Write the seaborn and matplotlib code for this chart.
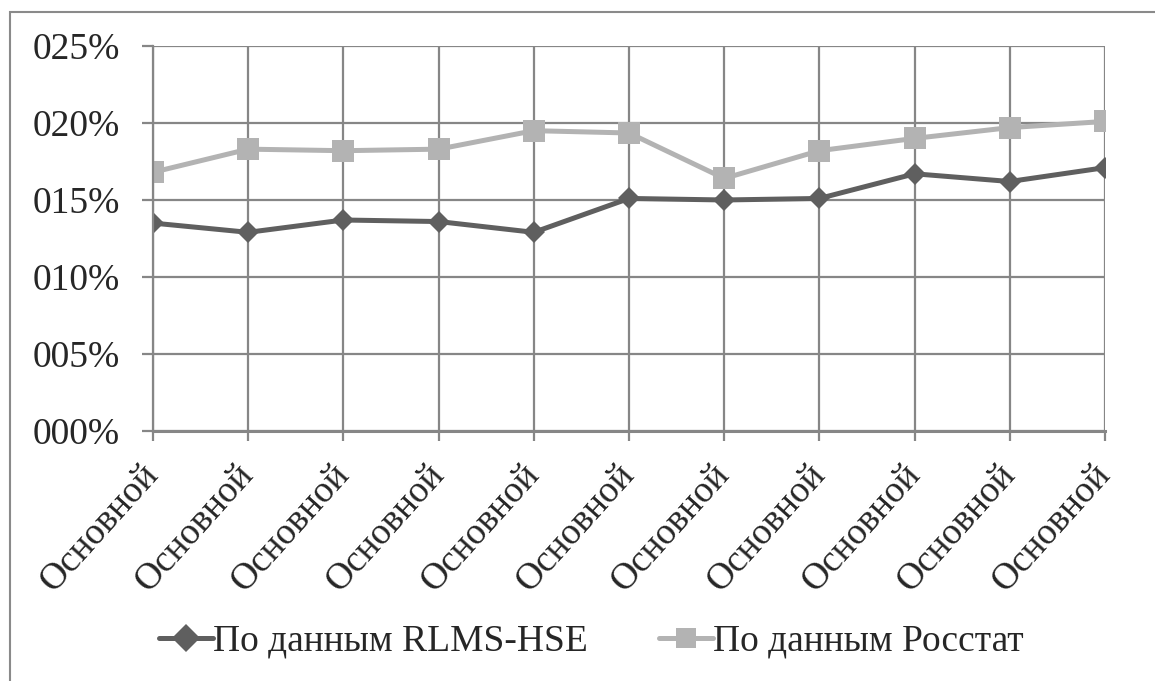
import matplotlib
matplotlib.use("Agg")
import matplotlib.pyplot as plt
import matplotlib.patches as mpatches
import seaborn as sns
import pandas as pd

categories = ["Основной"] * 11
rlms = [13.5, 12.9, 13.7, 13.6, 12.9, 15.1, 15.0, 15.1, 16.7, 16.2, 17.1]
rosstat = [16.8, 18.3, 18.2, 18.3, 19.5, 19.35, 16.4, 18.2, 19.0, 19.7, 20.1]
yticks = [0, 5, 10, 15, 20, 25]
names = ["По данным RLMS-HSE", "По данным Росстат"]

sns.set_style("white")
plt.rcParams["font.family"] = ["Liberation Serif", "DejaVu Serif"]

x = list(range(len(categories)))
df = pd.DataFrame({"x": x * 2,
                   "value": rlms + rosstat,
                   "series": [names[0]] * len(x) + [names[1]] * len(x)})

fig = plt.figure(figsize=(11.55, 6.81), dpi=100)
ax = fig.add_axes([0.1325, 0.3671, 0.9567 - 0.1325, 0.9325 - 0.3671])

grid_c = "#868686"
ax.set_axisbelow(True)
ax.grid(True, color=grid_c, linewidth=1.6)

sns.lineplot(data=df, x="x", y="value", hue="series", style="series",
             palette=["#5f5f5f", "#b3b3b3"], markers=["D", "s"], dashes=False,
             linewidth=3.6, markersize=14, markeredgewidth=0, ax=ax)
lines = [l for l in ax.get_lines() if len(l.get_xdata()) == len(x)]
if len(lines) >= 2:
    lines[0].set_markersize(11.5)
    lines[1].set_markersize(16)

ax.set_xlim(0, len(x) - 1)
ax.set_ylim(0, 25)
ax.set_yticks(yticks)
ax.set_yticklabels([f"{v:03d}%" for v in yticks], fontsize=27)
ax.set_xticks(x)
ax.set_xticklabels(categories, rotation=48, ha="right", va="center",
                   rotation_mode="anchor", fontsize=27)
ax.tick_params(axis="y", direction="out", length=8, width=1.6,
               color=grid_c, pad=16, left=True)
ax.tick_params(axis="x", direction="out", length=7, width=1.6,
               color=grid_c, pad=20, bottom=True)
ax.set_xlabel("")
ax.set_ylabel("")
for s in ["top", "right"]:
    ax.spines[s].set_visible(False)
ax.spines["left"].set_color(grid_c)
ax.spines["left"].set_linewidth(1.6)
ax.spines["bottom"].set_color(grid_c)
ax.spines["bottom"].set_linewidth(2.2)

handles, labels = ax.get_legend_handles_labels()
ax.get_legend().remove()
fig.legend(handles, labels, loc="center", bbox_to_anchor=(0.512, 0.058), ncol=2,
           frameon=False, fontsize=27, handlelength=1.45, handletextpad=0.0,
           columnspacing=1.9)

frame = mpatches.Rectangle((10 / 1155, -0.1), 1.2, (681 - 12) / 681 + 0.1,
                           transform=fig.transFigure, fill=False,
                           edgecolor="#8a8a8a", linewidth=1.5)
fig.patches.append(frame)

fig.savefig("out.png", dpi=100)
